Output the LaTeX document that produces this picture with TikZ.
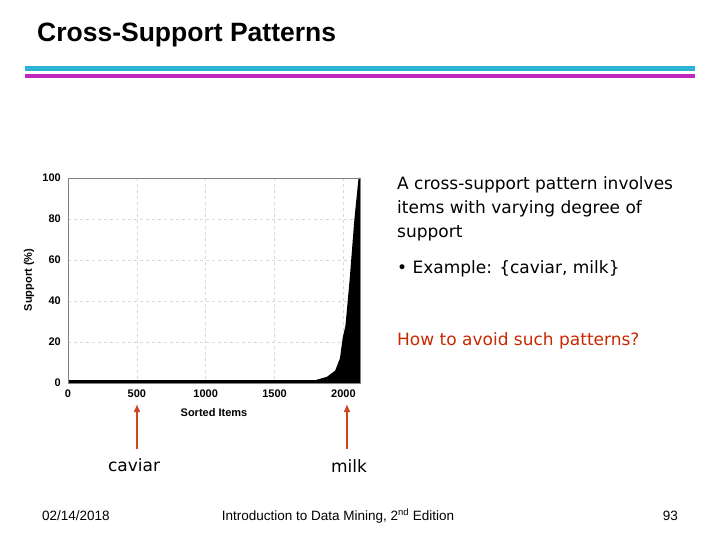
\documentclass[tikz,border=0pt]{standalone}
\usepackage{fontspec}
\setmainfont{DejaVu Sans}
\newfontfamily\arial{Liberation Sans}
\usepackage{xcolor}
\definecolor{slidecyan}{RGB}{40,180,210}
\definecolor{slidemag}{RGB}{190,40,190}
\definecolor{arrred}{RGB}{205,70,30}
\definecolor{askred}{RGB}{200,40,0}
\tikzset{
  gridline/.style={gray!30, dashed, line width=0.4pt},
  ticklab/.style={font=\arial\bfseries\fontsize{11}{12}\selectfont, inner sep=1pt},
  bodytext/.style={font=\fontsize{17}{24}\selectfont, anchor=north west, align=left, inner sep=0pt},
  pointer/.style={arrred, line width=1.4pt, -{Latex[length=8pt,width=7pt]}},
  foot/.style={font=\arial\fontsize{13.5}{15}\selectfont, inner sep=0pt},
}
\usetikzlibrary{arrows.meta}
\begin{document}
\begin{tikzpicture}[x=1pt,y=-1pt]
\useasboundingbox (0,0) rectangle (720,540);
% title and rules
\node [anchor=west, font=\arial\bfseries\fontsize{26.5}{28}\selectfont, inner sep=0pt] (title) at (37,35) {Cross-Support Patterns};
\fill [slidecyan] (25,66) rectangle (695,71.5);
\fill [slidemag] (25,74.5) rectangle (695,78);
% plot frame
\coordinate (p0) at (68,383);
\coordinate (p1) at (360,178);
\foreach \v in {500,1000,1500,2000}
  \draw [gridline] ({68+\v*0.1377},178) -- ({68+\v*0.1377},383);
\foreach \v in {20,40,60,80}
  \draw [gridline] (68,{383-\v*2.05}) -- (360,{383-\v*2.05});
% support curve
\fill [black] (68,383) -- (68,380) -- ({68+1800*0.1377},380)
  -- ({68+1880*0.1377},{383-3*2.05}) -- ({68+1940*0.1377},{383-6*2.05})
  -- ({68+1975*0.1377},{383-12*2.05}) -- ({68+1995*0.1377},{383-22*2.05})
  -- ({68+2015*0.1377},{383-28*2.05}) -- ({68+2045*0.1377},{383-50*2.05})
  -- ({68+2080*0.1377},{383-80*2.05}) -- ({68+2110*0.1377},178)
  -- (360,178) -- (360,383) -- cycle;
\draw [gray, line width=0.6pt] (p0) rectangle (p1);
% tick labels
\foreach \v in {0,500,1000,1500,2000}
  \node [ticklab, anchor=north] (x\v) at ({68+\v*0.1377},389) {\v};
\foreach \v in {0,20,40,60,80,100}
  \node [ticklab, anchor=east] (y\v) at (62,{383-\v*2.05}) {\v};
\node [ticklab, anchor=north] (xlab) at (214,407) {Sorted Items};
\node [ticklab, rotate=90] (ylab) at (29,280) {Support (\%)};
% pointers
\coordinate (cavtip) at (137,404);
\coordinate (milktip) at (347,404);
\node [font=\fontsize{17}{20}\selectfont] (caviar) at (134,465) {caviar};
\node [font=\fontsize{17}{20}\selectfont] (milk) at (349,466) {milk};
\draw [pointer] (137,449) -- (cavtip);
\draw [pointer] (347,449) -- (milktip);
% text on the right
\node [bodytext] (desc) at (397,176) {A cross-support pattern involves\\items with varying degree of\\support};
\node [bodytext] (ex) at (397,260) {\textbullet{} Example: \{caviar, milk\}};
\node [bodytext, text=askred] (ask) at (397,332) {How to avoid such patterns?};
% footer
\node [foot, anchor=west] (date) at (42,516) {02/14/2018};
\node [foot] (book) at (338,516) {Introduction to Data Mining, 2\textsuperscript{nd} Edition};
\node [foot, anchor=east] (page) at (678,516) {93};
\end{tikzpicture}
\end{document}
